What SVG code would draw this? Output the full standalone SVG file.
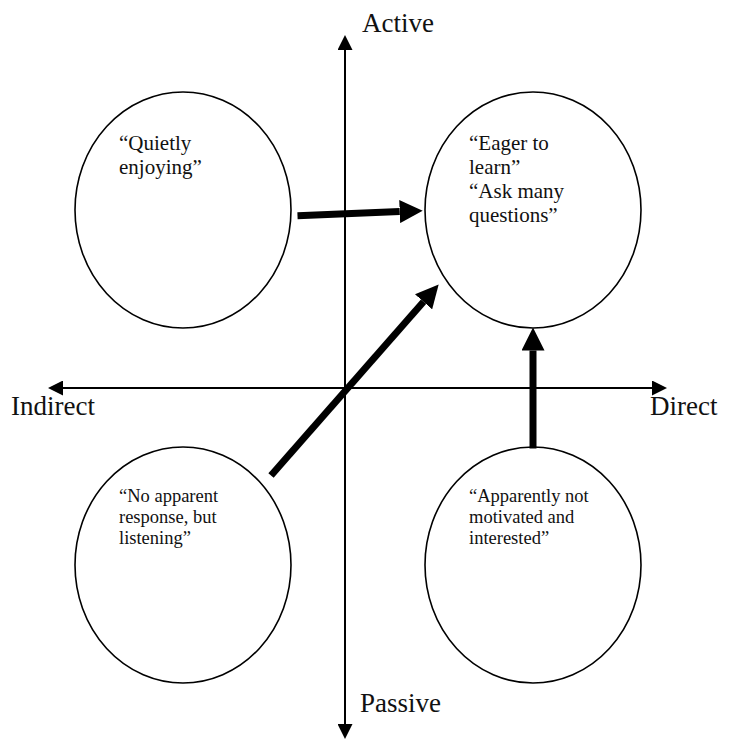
<svg xmlns="http://www.w3.org/2000/svg" width="729" height="739" viewBox="0 0 729 739">
  <style>
    .bubble { fill: #ffffff; stroke: #000000; stroke-width: 1.6; }
    .axis { stroke: #000000; stroke-width: 2; fill: none; }
    .flow { stroke: #000000; stroke-width: 7; fill: none; stroke-linecap: butt; }
    .axis-label { font-family: "Liberation Serif", "Times New Roman", serif; font-size: 27px; fill: #111111; }
    .note { font-family: "Liberation Serif", "Times New Roman", serif; font-size: 21px; fill: #111111; }
    .note-sm { font-family: "Liberation Serif", "Times New Roman", serif; font-size: 18.5px; fill: #111111; }
  </style>
  <defs>
    <marker id="axisHead" markerUnits="userSpaceOnUse" markerWidth="15" markerHeight="15" refX="0" refY="7.5" orient="auto">
      <path d="M0,0 L15,7.5 L0,15 z" fill="#000000"/>
    </marker>
    <marker id="flowHead" markerUnits="userSpaceOnUse" markerWidth="23" markerHeight="23" refX="0" refY="11.5" orient="auto">
      <path d="M0,0 L23,11.5 L0,23 z" fill="#000000"/>
    </marker>
  </defs>

  <!-- Axes -->
  <g id="axes">
    <line class="axis" x1="345" y1="388" x2="345" y2="50" marker-end="url(#axisHead)"/>
    <line class="axis" x1="345" y1="388" x2="345" y2="724" marker-end="url(#axisHead)"/>
    <line class="axis" x1="345" y1="388" x2="63" y2="388" marker-end="url(#axisHead)"/>
    <line class="axis" x1="345" y1="388" x2="652" y2="388" marker-end="url(#axisHead)"/>
    <text class="axis-label" x="362" y="32">Active</text>
    <text class="axis-label" x="360" y="712">Passive</text>
    <text class="axis-label" x="11" y="415">Indirect</text>
    <text class="axis-label" x="650" y="415">Direct</text>
  </g>

  <!-- Quadrant bubbles -->
  <g id="quietly-enjoying">
    <ellipse class="bubble" cx="183" cy="210" rx="108" ry="118"/>
    <text class="note" x="119" y="150">“Quietly</text>
    <text class="note" x="119" y="174">enjoying”</text>
  </g>

  <g id="eager-to-learn">
    <ellipse class="bubble" cx="533" cy="210" rx="108" ry="118"/>
    <text class="note" x="469" y="150">“Eager to</text>
    <text class="note" x="469" y="174">learn”</text>
    <text class="note" x="469" y="198">“Ask many</text>
    <text class="note" x="469" y="222">questions”</text>
  </g>

  <g id="no-apparent-response">
    <ellipse class="bubble" cx="183" cy="565" rx="108" ry="118"/>
    <text class="note-sm" x="119" y="502">“No apparent</text>
    <text class="note-sm" x="119" y="523">response, but</text>
    <text class="note-sm" x="119" y="544">listening”</text>
  </g>

  <g id="apparently-not-motivated">
    <ellipse class="bubble" cx="533" cy="565" rx="108" ry="118"/>
    <text class="note-sm" x="469" y="502">“Apparently not</text>
    <text class="note-sm" x="469" y="523">motivated and</text>
    <text class="note-sm" x="469" y="544">interested”</text>
  </g>

  <!-- Transitions toward the active/direct bubble -->
  <g id="connectors">
    <line class="flow" x1="297.5" y1="215.7" x2="399.7" y2="211.6" marker-end="url(#flowHead)"/>
    <line class="flow" x1="271" y1="475.5" x2="423.5" y2="301.8" marker-end="url(#flowHead)"/>
    <line class="flow" x1="533" y1="448.5" x2="533" y2="350.5" marker-end="url(#flowHead)"/>
  </g>
</svg>
